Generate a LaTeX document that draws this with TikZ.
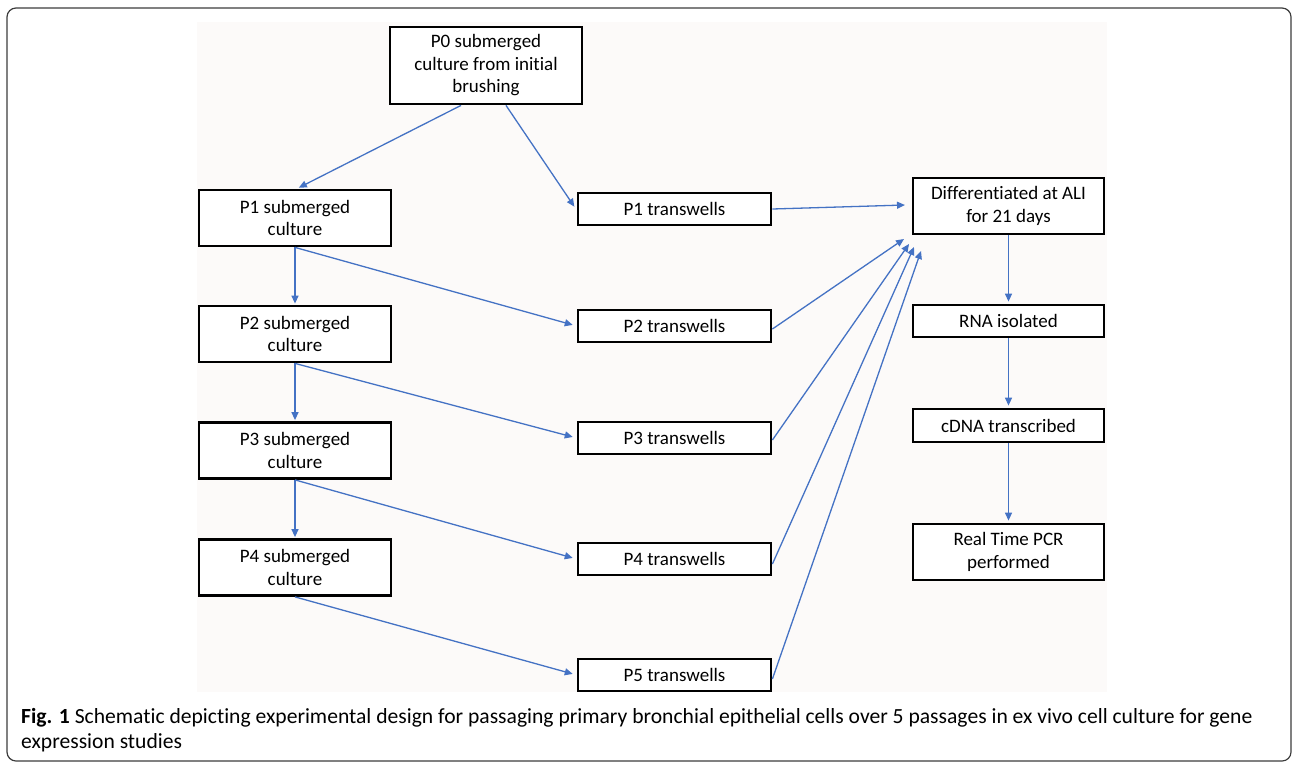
\documentclass[tikz,border=0pt]{standalone}
\usepackage{fontspec}
\setmainfont{Carlito}[Ligatures=NoCommon]
\newfontfamily\capfont{Carlito}[Ligatures=NoCommon]
\usetikzlibrary{arrows.meta}
\definecolor{arrowblue}{RGB}{68,114,196}
\definecolor{bggray}{RGB}{252,250,249}
\definecolor{framegray}{RGB}{60,60,60}
\begin{document}
\begin{tikzpicture}[x=1pt,y=-1pt,
  box/.style={draw=black,line width=2.8pt,fill=white,align=center,inner sep=0pt,
    font=\fontsize{19}{22.5}\selectfont},
  arr/.style={draw=arrowblue,line width=1.3pt,-{Triangle[length=8pt,width=7pt]},shorten >=2pt}
]
\useasboundingbox (0,0) rectangle (1292,764);
\draw[framegray,line width=1.2pt,rounded corners=9pt] (7,8) rectangle (1291,761);
\fill[bggray] (197,22) rectangle (1107,692);

\node[box,minimum width=192pt,minimum height=77pt] (p0) at (486,65.5) {P0 submerged\\culture from initial\\brushing};
\node[box,minimum width=192pt,minimum height=56pt] (s1) at (295,218) {P1 submerged\\culture};
\node[box,minimum width=192pt,minimum height=56pt] (s2) at (295,334) {P2 submerged\\culture};
\node[box,minimum width=192pt,minimum height=56pt] (s3) at (295,450.5) {P3 submerged\\culture};
\node[box,minimum width=192pt,minimum height=56pt] (s4) at (295,567.5) {P4 submerged\\culture};

\node[box,minimum width=193pt,minimum height=32pt] (t1) at (674.5,209) {P1 transwells};
\node[box,minimum width=193pt,minimum height=32pt] (t2) at (674.5,326) {P2 transwells};
\node[box,minimum width=193pt,minimum height=32pt] (t3) at (674.5,438) {P3 transwells};
\node[box,minimum width=193pt,minimum height=32pt] (t4) at (674.5,559) {P4 transwells};
\node[box,minimum width=193pt,minimum height=32pt] (t5) at (674.5,675) {P5 transwells};

\node[box,minimum width=191pt,minimum height=56pt] (diff) at (1008.5,206) {Differentiated at ALI\\for 21 days};
\node[box,minimum width=191pt,minimum height=32pt] (rna) at (1008.5,321) {RNA isolated};
\node[box,minimum width=191pt,minimum height=33pt] (cdna) at (1008.5,425.5) {cDNA transcribed};
\node[box,minimum width=191pt,minimum height=56pt] (pcr) at (1008.5,552) {Real Time PCR\\performed};

\coordinate (d1) at (905,205);
\coordinate (d2) at (904,239);
\coordinate (d3) at (909,244);
\coordinate (d4) at (914,247);
\coordinate (d5) at (921,251);

\draw[arr] ([xshift=-25pt]p0.south) -- ([xshift=2pt]s1.north);
\draw[arr,shorten >=4pt] ([xshift=20pt]p0.south) -- ([yshift=-1pt]t1.west);

\draw[arr,shorten >=1pt] (s1.south) -- (s2.north);
\draw[arr,shorten >=1pt] (s2.south) -- (s3.north);
\draw[arr,shorten >=1pt] (s3.south) -- (s4.north);

\draw[arr,shorten >=4pt] (s1.south) -- (t2.west);
\draw[arr,shorten >=4pt] (s2.south) -- (t3.west);
\draw[arr,shorten >=4pt] (s3.south) -- (t4.west);
\draw[arr,shorten >=4pt] (s4.south) -- (t5.west);

\draw[arr,shorten >=0pt] (t1.east) -- (d1);
\draw[arr,shorten >=0pt] ([yshift=-3pt]t2.east) -- (d2);
\draw[arr,shorten >=0pt] ([yshift=-2pt]t3.east) -- (d3);
\draw[arr,shorten >=0pt] ([yshift=-5pt]t4.east) -- (d4);
\draw[arr,shorten >=0pt] ([yshift=-4pt]t5.east) -- (d5);

\draw[arr] (diff.south) -- (rna.north);
\draw[arr] (rna.south) -- (cdna.north);
\draw[arr] (cdna.south) -- (pcr.north);

\node[anchor=north west,align=left,inner sep=0pt,font=\capfont\fontsize{21.6}{25}\selectfont] (cap) at (21,708)
  {\textbf{Fig. 1} Schematic depicting experimental design for passaging primary bronchial epithelial cells over 5 passages in ex vivo cell culture for gene\\expression studies};
\end{tikzpicture}
\end{document}
